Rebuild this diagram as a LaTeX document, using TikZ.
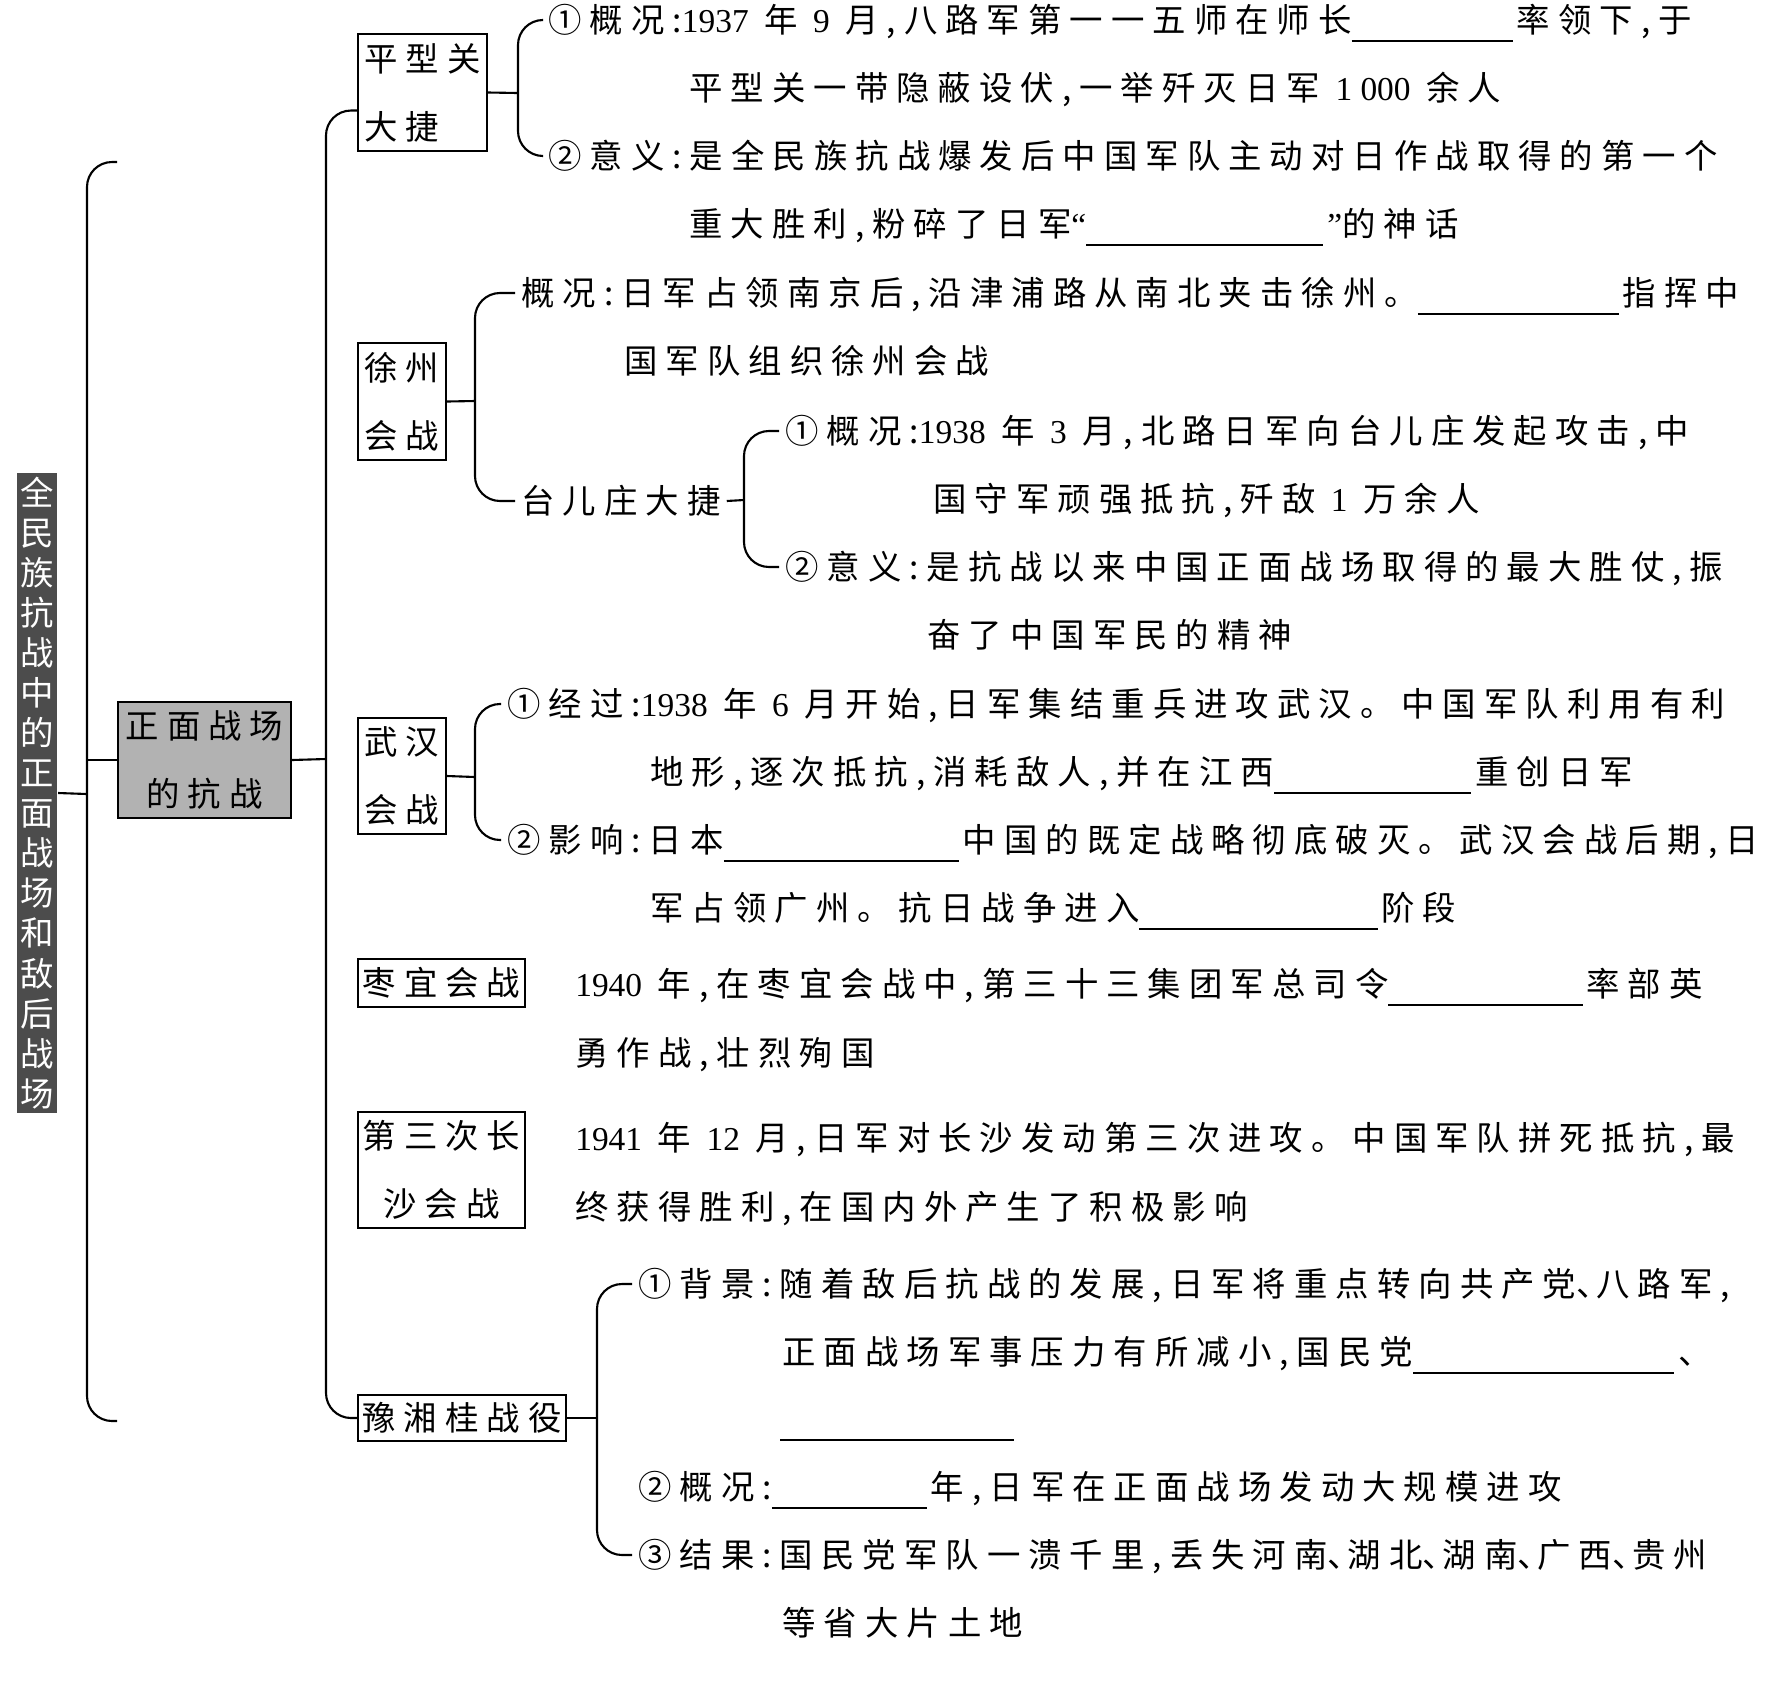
\documentclass[tikz,border=0pt]{standalone}
\usepackage{fontspec}
\setmainfont{Noto Sans CJK SC}[LetterSpace=24]
\newfontfamily\numf{Liberation Serif}
\usetikzlibrary{positioning}
\newcommand{\num}[1]{{\numf #1}}
\newcommand{\blank}[1]{\rule[-0.1cm]{#1}{0.6pt}\hspace{0.04cm}}
\newcommand{\dun}{\makebox[0.6em][l]{、}}

\begin{document}
\begin{tikzpicture}[
	x=0.01cm, y=-0.01cm,
	line width=0.6pt,
	txt/.style={
		anchor=base west,
		inner xsep=1.5pt,
		inner ysep=0pt,
		text height=0.29cm,
		text depth=0.05cm,
		font=\fontsize{9.5pt}{0.68cm}\selectfont
	},
	evbox/.style={
		draw,
		inner sep=0pt,
		align=center,
		font=\fontsize{9.5pt}{0.68cm}\selectfont
	},
	hook/.style={rounded corners=0.25cm}
	]
	\useasboundingbox (0,0) rectangle (1775,1687);

	% title and front box
	\node[fill=black!70, text=white, minimum width=0.4cm, minimum height=6.4cm, inner sep=0pt, align=center,
		font=\fontsize{9.5pt}{0.4cm}\selectfont] (title) at (37,793)
		{全\\民\\族\\抗\\战\\中\\的\\正\\面\\战\\场\\和\\敌\\后\\战\\场};
	\node[evbox, fill=black!30, minimum width=1.73cm, minimum height=1.16cm] (front) at (204.5,760) {正面战场\\的抗战};

	% battles
	\node[evbox, align=left, minimum width=1.29cm, minimum height=1.17cm] (pxg) at (422.5,92.5) {平型关\\大捷};
	\node[evbox, minimum width=0.88cm, minimum height=1.17cm] (xz) at (402,401.5) {徐州\\会战};
	\node[evbox, minimum width=0.88cm, minimum height=1.16cm] (wh) at (402,776) {武汉\\会战};
	\node[evbox, minimum width=1.67cm, minimum height=0.48cm] (zy) at (441.5,983) {枣宜会战};
	\node[evbox, minimum width=1.67cm, minimum height=1.16cm] (cs) at (441.5,1170) {第三次长\\沙会战};
	\node[evbox, minimum width=2.08cm, minimum height=0.46cm] (yxg) at (462,1418) {豫湘桂战役};

	% 平型关大捷
	\node[txt] (pxgA) at (542,32) {①概况:\num{1937} 年 \num{9} 月,八路军第一一五师在师长\blank{1.61cm}率领下,于};
	\node[txt] (pxgA2) at (683,100) {平型关一带隐蔽设伏,一举歼灭日军 \num{1 000} 余人};
	\node[txt] (pxgB) at (542,168) {②意义:是全民族抗战爆发后中国军队主动对日作战取得的第一个};
	\node[txt] (pxgB2) at (683,236) {重大胜利,粉碎了日军\num{“}\blank{2.37cm}\num{”}的神话};

	% 徐州会战
	\node[txt] (xzA) at (515,305) {概况:日军占领南京后,沿津浦路从南北夹击徐州。\blank{2.01cm}指挥中};
	\node[txt] (xzA2) at (618,373) {国军队组织徐州会战};
	\node[txt] (tez) at (515,513) {台儿庄大捷};
	\node[txt] (tezA) at (779,443) {①概况:\num{1938} 年 \num{3} 月,北路日军向台儿庄发起攻击,中};
	\node[txt] (tezA2) at (927,511) {国守军顽强抵抗,歼敌 \num{1} 万余人};
	\node[txt] (tezB) at (779,579) {②意义:是抗战以来中国正面战场取得的最大胜仗,振};
	\node[txt] (tezB2) at (921,647) {奋了中国军民的精神};

	% 武汉会战
	\node[txt] (whA) at (501,716) {①经过:\num{1938} 年 \num{6} 月开始,日军集结重兵进攻武汉。中国军队利用有利};
	\node[txt] (whA2) at (644,784) {地形,逐次抵抗,消耗敌人,并在江西\blank{1.97cm}重创日军};
	\node[txt] (whB) at (501,852) {②影响:日本\blank{2.35cm}中国的既定战略彻底破灭。武汉会战后期,日};
	\node[txt] (whB2) at (644,920) {军占领广州。抗日战争进入\blank{2.38cm}阶段};

	% 枣宜会战, 长沙会战
	\node[txt] (zyA) at (569,996) {\num{1940} 年,在枣宜会战中,第三十三集团军总司令\blank{1.94cm}率部英};
	\node[txt] (zyA2) at (569,1065) {勇作战,壮烈殉国};
	\node[txt] (csA) at (569,1150) {\num{1941} 年 \num{12} 月,日军对长沙发动第三次进攻。中国军队拼死抵抗,最};
	\node[txt] (csA2) at (569,1219) {终获得胜利,在国内外产生了积极影响};

	% 豫湘桂战役
	\node[txt] (yxgA) at (632,1296) {①背景:随着敌后抗战的发展,日军将重点转向共产党\dun 八路军,};
	\node[txt] (yxgA2) at (776,1364) {正面战场军事压力有所减小,国民党\blank{2.61cm}\dun};
	\node[txt] (yxgA3) at (774,1431) {\blank{2.34cm}};
	\node[txt] (yxgB) at (632,1499) {②概况:\blank{1.55cm}年,日军在正面战场发动大规模进攻};
	\node[txt] (yxgC) at (632,1567) {③结果:国民党军队一溃千里,丢失河南\dun 湖北\dun 湖南\dun 广西\dun 贵州};
	\node[txt] (yxgC2) at (776,1635) {等省大片土地};

	% brackets
	\coordinate (brO) at (87,794);
	\coordinate (oTop) at (117,162);
	\coordinate (oBot) at (117,1421);
	\draw[hook] (oTop) -| (brO) |- (oBot);
	\draw (title.east) -- (brO);
	\draw (front.west) -- (front.west -| brO);

	\coordinate (brM) at (326,759);
	\draw (front.east) -- (brM);
	\draw[hook] ([yshift=-0.18cm]pxg.west) -| (brM) |- (yxg.west);

	\coordinate (brA) at (518,93);
	\draw (pxg.east) -- (brA);
	\draw[hook] (pxgA.west) -| (brA) |- (pxgB.west);

	\coordinate (brB) at (475,401);
	\draw (xz.east) -- (brB);
	\draw[hook] (xzA.west) -| (brB) |- (tez.west);

	\coordinate (brC) at (744,500);
	\draw (tez.east) -- (brC);
	\draw[hook] (tezA.west) -| (brC) |- (tezB.west);

	\coordinate (brD) at (475,777);
	\draw (wh.east) -- (brD);
	\draw[hook] (whA.west) -| (brD) |- (whB.west);

	\coordinate (brG) at (597,1418);
	\draw (yxg.east) -- (brG);
	\draw[hook] (yxgA.west) -| (brG) |- (yxgC.west);
\end{tikzpicture}
\end{document}
